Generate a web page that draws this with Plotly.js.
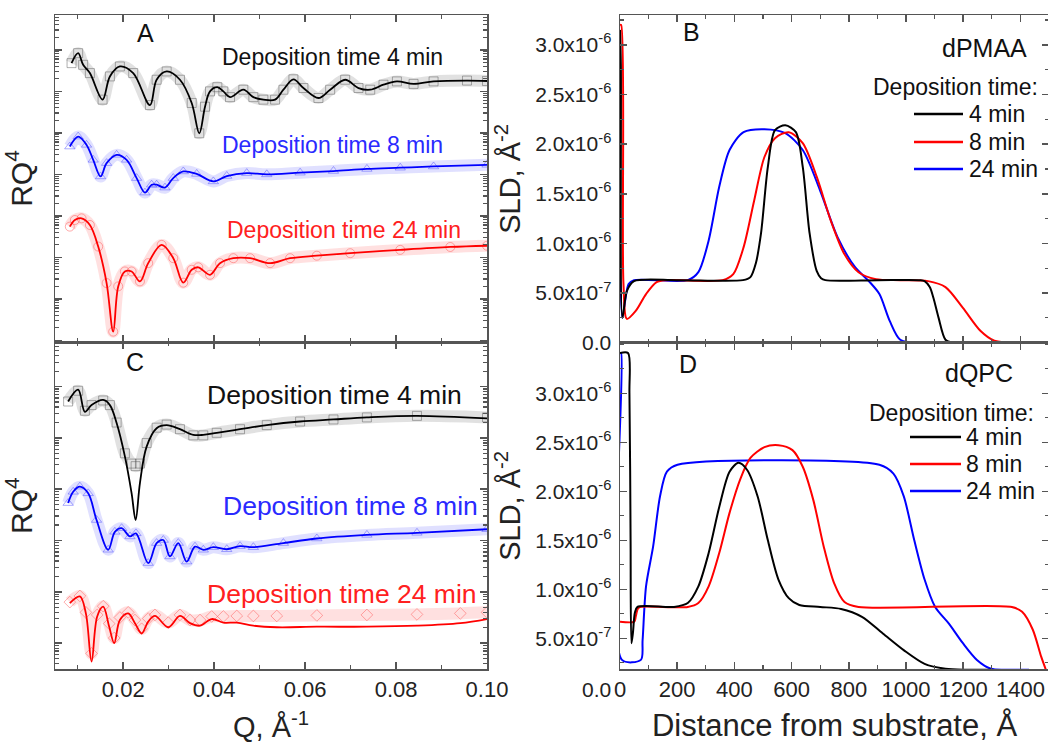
<!DOCTYPE html>
<html><head><meta charset="utf-8">
<script src="https://cdn.plot.ly/plotly-3.0.1.min.js"></script>
<style>html,body{margin:0;padding:0;overflow:hidden;background:#fff}#chart{width:1050px;height:743px}</style>
</head><body><div id="chart"></div>
<script>
// ---------- Panel A (dPMAA reflectivity), log10(RQ^4), offset curves ----------
const qA4  = [0.00864,0.01009,0.01119,0.01267,0.01546,0.01707,0.01927,0.0222,0.02588,0.02735,0.02956,0.03248,0.03506,0.03673,0.03799,0.03909,0.0407,0.04202,0.04349,0.04642,0.04862,0.05082,0.0534,0.05523,0.05743,0.05963,0.06293,0.06551,0.06881,0.07174,0.07432,0.07724,0.08019,0.08385,0.08825,0.0956,0.1];
const rA4  = [-0.32,-0.08,-0.36,-0.56,-1.20,-0.64,-0.40,-0.56,-1.33,-0.72,-0.52,-0.72,-1.28,-2.01,-1.37,-1.00,-0.90,-1.00,-1.14,-0.96,-1.14,-1.20,-1.20,-0.96,-0.71,-0.92,-1.16,-0.96,-0.72,-0.92,-0.96,-0.84,-0.76,-0.82,-0.76,-0.74,-0.75];
const qA8  = [0.00826,0.01009,0.01194,0.0134,0.01502,0.01635,0.01855,0.02075,0.02295,0.02478,0.02625,0.02735,0.02918,0.03101,0.03321,0.03616,0.03982,0.04277,0.04717,0.05157,0.0589,0.06624,0.07359,0.08092,0.08825,0.1];
const rA8  = [-2.33,-2.09,-2.29,-2.65,-3.05,-2.73,-2.53,-2.65,-3.09,-3.44,-3.25,-3.25,-3.32,-3.09,-2.93,-2.99,-3.17,-3.04,-2.97,-3.00,-2.96,-2.92,-2.87,-2.84,-2.81,-2.77];
const qA24 = [0.00826,0.00937,0.01084,0.01267,0.0145,0.01635,0.0178,0.0189,0.02037,0.02185,0.02368,0.0255,0.02845,0.03101,0.03321,0.03506,0.03651,0.03909,0.04129,0.04422,0.0479,0.0523,0.0567,0.06258,0.06992,0.08092,0.09193,0.1];
const rA24 = [-4.26,-4.10,-4.06,-4.22,-4.74,-5.62,-6.79,-5.70,-5.34,-5.34,-5.58,-5.14,-4.70,-5.02,-5.61,-5.30,-5.24,-5.42,-5.14,-5.02,-5.02,-5.14,-5.02,-4.96,-4.90,-4.82,-4.75,-4.72];

// ---------- Panel C (dQPC reflectivity) ----------
const qC4  = [0.00789,0.01009,0.01157,0.01304,0.0156,0.01707,0.01855,0.02037,0.02185,0.02273,0.02368,0.02515,0.02735,0.02956,0.03248,0.03541,0.03761,0.04056,0.04569,0.05157,0.0589,0.06624,0.07359,0.0846,0.1];
const rC4fit  = [-0.29,-0.06,-0.49,-0.36,-0.26,-0.36,-0.71,-1.36,-2.08,-2.60,-1.88,-1.17,-0.81,-0.75,-0.83,-0.94,-0.94,-0.90,-0.83,-0.75,-0.68,-0.64,-0.60,-0.57,-0.62];
const rC4meas = [-0.29,-0.08,-0.47,-0.36,-0.27,-0.36,-0.70,-1.30,-1.50,-1.55,-1.50,-1.10,-0.80,-0.74,-0.83,-0.95,-0.95,-0.90,-0.83,-0.75,-0.68,-0.64,-0.60,-0.57,-0.60];
const qC8  = [0.00789,0.009,0.01047,0.0123,0.01414,0.0167,0.01817,0.01965,0.02148,0.0228,0.0255,0.02735,0.02881,0.03028,0.03211,0.03396,0.03579,0.03761,0.03982,0.04277,0.04569,0.04862,0.05523,0.06258,0.07359,0.0846,0.1];
const rC8  = [-2.27,-2.05,-1.95,-2.08,-2.60,-3.18,-2.83,-2.76,-2.92,-2.86,-3.44,-3.05,-2.99,-3.31,-3.05,-3.41,-3.12,-3.18,-3.13,-3.17,-3.11,-3.13,-3.05,-2.96,-2.89,-2.85,-2.78];
const qC24 = [0.00826,0.01047,0.01179,0.01304,0.01428,0.0156,0.01692,0.01802,0.01927,0.0211,0.02258,0.02405,0.0255,0.02698,0.02991,0.03248,0.03469,0.03689,0.03946,0.04202,0.04497,0.04862,0.05377,0.06258,0.07359,0.0846,0.09413,0.1];
const rC24fit  = [-4.22,-4.09,-4.42,-5.36,-4.48,-4.29,-4.68,-5.00,-4.55,-4.42,-4.61,-4.81,-4.58,-4.47,-4.69,-4.47,-4.61,-4.66,-4.53,-4.60,-4.60,-4.66,-4.69,-4.68,-4.68,-4.66,-4.61,-4.53];
const rC24meas = [-4.20,-4.08,-4.40,-5.20,-4.45,-4.28,-4.62,-4.90,-4.50,-4.40,-4.55,-4.72,-4.52,-4.45,-4.60,-4.45,-4.55,-4.55,-4.48,-4.48,-4.47,-4.47,-4.47,-4.46,-4.45,-4.44,-4.42,-4.40];

// ---------- Panel B (dPMAA SLD profiles) ----------
const zB4   = [0,3,8.5,24,49,200,430,456,475,493,517,542,578,615,639,663,688,703,718,900,1050,1065,1083,1096,1114,1138,1163];
const sldB4 = [3.15e-6,2.8e-6,0.25e-6,0.52e-6,0.62e-6,0.63e-6,0.63e-6,0.66e-6,0.80e-6,1.10e-6,1.77e-6,2.14e-6,2.19e-6,2.12e-6,1.77e-6,1.10e-6,0.72e-6,0.65e-6,0.63e-6,0.63e-6,0.63e-6,0.62e-6,0.56e-6,0.45e-6,0.25e-6,0.03e-6,0];
const zB8   = [0,4,12,24,55,91,128,164,359,396,432,469,505,542,590,639,688,737,785,834,895,980,1077,1138,1199,1260,1309,1394];
const sldB8 = [3.2e-6,3.2e-6,0.6e-6,0.24e-6,0.32e-6,0.49e-6,0.61e-6,0.63e-6,0.63e-6,0.69e-6,0.96e-6,1.43e-6,1.87e-6,2.06e-6,2.12e-6,2.01e-6,1.67e-6,1.23e-6,0.89e-6,0.71e-6,0.64e-6,0.63e-6,0.62e-6,0.56e-6,0.35e-6,0.12e-6,0.02e-6,0];
const zB24   = [0,8,30,49,237,274,310,347,383,432,505,578,639,700,761,822,870,907,943,980,1053];
const sldB24 = [2.3e-6,0.25e-6,0.59e-6,0.63e-6,0.63e-6,0.71e-6,1.03e-6,1.57e-6,1.94e-6,2.12e-6,2.15e-6,2.11e-6,1.94e-6,1.53e-6,1.06e-6,0.76e-6,0.62e-6,0.49e-6,0.22e-6,0.03e-6,0];

// ---------- Panel D (dQPC SLD profiles) ----------
const zD4   = [0,28,33,37,40,45,52,61,189,237,274,310,347,383,414,444,481,517,554,590,627,700,773,846,919,992,1065,1138,1211,1300];
const sldD4 = [3.41e-6,3.41e-6,3.0e-6,1.5e-6,0.45e-6,0.55e-6,0.76e-6,0.82e-6,0.82e-6,0.86e-6,1.03e-6,1.37e-6,1.84e-6,2.20e-6,2.29e-6,2.22e-6,1.95e-6,1.50e-6,1.10e-6,0.91e-6,0.84e-6,0.82e-6,0.80e-6,0.72e-6,0.55e-6,0.38e-6,0.24e-6,0.19e-6,0.18e-6,0.18e-6];
const zD8   = [0,50,55,62,70,237,274,310,347,383,420,456,505,554,603,639,676,712,749,785,834,1370,1406,1443,1473,1489];
const sldD8 = [0.67e-6,0.67e-6,0.72e-6,0.80e-6,0.82e-6,0.82e-6,0.86e-6,1.03e-6,1.37e-6,1.78e-6,2.12e-6,2.34e-6,2.45e-6,2.47e-6,2.42e-6,2.25e-6,1.91e-6,1.44e-6,1.06e-6,0.87e-6,0.82e-6,0.82e-6,0.77e-6,0.59e-6,0.31e-6,0.18e-6];
const zD24   = [0,4,7,73,79,91,116,140,164,201,907,956,992,1029,1065,1102,1150,1199,1248,1297,1345,1430];
const sldD24 = [3.41e-6,3.41e-6,0.28e-6,0.28e-6,0.48e-6,1.03e-6,1.44e-6,1.95e-6,2.20e-6,2.27e-6,2.27e-6,2.18e-6,1.95e-6,1.50e-6,1.10e-6,0.82e-6,0.65e-6,0.45e-6,0.28e-6,0.19e-6,0.18e-6,0.18e-6];

// ---------- labels ----------
const seriesLabelsLeft = ['Deposition time 4 min','Deposition time 8 min','Deposition time 24 min'];
const legendLabels = ['4 min','8 min','24 min'];
const sldTickVals = [0,5e-7,1e-6,1.5e-6,2e-6,2.5e-6,3e-6];
const sldTickText = ['0.0','5.0x10<sup>-7</sup>','1.0x10<sup>-6</sup>','1.5x10<sup>-6</sup>','2.0x10<sup>-6</sup>','2.5x10<sup>-6</sup>','3.0x10<sup>-6</sup>'];

// ---------- helpers ----------
const W = 1050, H = 743;
const PX = x => x / W, PY = y => 1 - y / H;
const pow10 = a => a.map(v => Math.pow(10, v));
const FONT = 'Liberation Sans, Arial, sans-serif';
const BLACK = '#000000', RED = '#ff0000', BLUE = '#0000ff';

function meas(x, ylog, xa, ya, sym, rgb) {
  return {x: x, y: pow10(ylog), xaxis: xa, yaxis: ya, mode: 'lines+markers', showlegend: false, hoverinfo: 'skip',
    line: {color: 'rgba(' + rgb + ',0.17)', width: 12, shape: 'spline', smoothing: 1},
    marker: {symbol: sym, size: 9, color: 'rgba(' + rgb + ',0.45)', line: {width: 1}}};
}
function fit(x, ylog, xa, ya, col) {
  return {x: x, y: pow10(ylog), xaxis: xa, yaxis: ya, mode: 'lines', showlegend: false,
    line: {color: col, width: 1.8, shape: 'spline', smoothing: 1}};
}
function sld(x, y, xa, ya, col, name) {
  return {x: x, y: y, xaxis: xa, yaxis: ya, mode: 'lines', name: name, showlegend: false,
    line: {color: col, width: 2, shape: 'spline', smoothing: 0.8}};
}

const traces = [
  meas(qA4, rA4, 'x', 'y', 'square-open', '80,80,80'), fit(qA4, rA4, 'x', 'y', BLACK),
  meas(qA8, rA8, 'x', 'y', 'triangle-up-open', '70,70,255'), fit(qA8, rA8, 'x', 'y', BLUE),
  meas(qA24, rA24, 'x', 'y', 'circle-open', '255,70,70'), fit(qA24, rA24, 'x', 'y', RED),
  meas(qC4, rC4meas, 'x2', 'y2', 'square-open', '80,80,80'), fit(qC4, rC4fit, 'x2', 'y2', BLACK),
  meas(qC8, rC8, 'x2', 'y2', 'triangle-up-open', '70,70,255'), fit(qC8, rC8, 'x2', 'y2', BLUE),
  meas(qC24, rC24meas, 'x2', 'y2', 'diamond-open', '255,70,70'), fit(qC24, rC24fit, 'x2', 'y2', RED),
  sld(zB24, sldB24, 'x3', 'y3', BLUE, legendLabels[2]),
  sld(zB8, sldB8, 'x3', 'y3', RED, legendLabels[1]),
  sld(zB4, sldB4, 'x3', 'y3', BLACK, legendLabels[0]),
  sld(zD24, sldD24, 'x4', 'y4', BLUE, legendLabels[2]),
  sld(zD8, sldD8, 'x4', 'y4', RED, legendLabels[1]),
  sld(zD4, sldD4, 'x4', 'y4', BLACK, legendLabels[0])
];

const AX = {showline: true, linecolor: '#555', linewidth: 1.5, mirror: 'ticks', ticks: 'inside', ticklen: 7,
  tickcolor: '#555', tickwidth: 1.5, showgrid: false, zeroline: false, automargin: false,
  tickfont: {family: FONT, size: 22, color: '#222'}};
const minorLin = d => ({dtick: d, ticks: 'inside', ticklen: 4, tickcolor: '#555', tickwidth: 1.2, showgrid: false});
const titleFont = s => ({family: FONT, size: s, color: '#222'});

const xLeft = [PX(55), PX(487)], xRight = [PX(620), PX(1049)];
const layout = {
  width: W, height: H, margin: {l: 0, r: 0, t: 0, b: 0}, paper_bgcolor: '#fff', plot_bgcolor: '#fff',
  font: {family: FONT, color: '#222'}, showlegend: false,
  xaxis: Object.assign({}, AX, {domain: xLeft, anchor: 'y', range: [0.005, 0.1], tick0: 0, dtick: 0.02, showticklabels: false, minor: minorLin(0.01)}),
  yaxis: Object.assign({}, AX, {domain: [PY(342), PY(15)], anchor: 'x', type: 'log', range: [-7.04, 0.84], dtick: 1, showticklabels: false,
    minor: {ticks: 'inside', ticklen: 4, tickcolor: '#555', tickwidth: 1.2, showgrid: false},
    title: {text: 'RQ<sup>4</sup>', font: titleFont(30), standoff: 12}}),
  xaxis2: Object.assign({}, AX, {domain: xLeft, anchor: 'y2', range: [0.005, 0.1], tick0: 0, dtick: 0.02, tickformat: '.2f', minor: minorLin(0.01),
    title: {text: 'Q, Å<sup>-1</sup>', font: titleFont(29), standoff: 20}}),
  yaxis2: Object.assign({}, AX, {domain: [PY(669.3), PY(342)], anchor: 'x2', type: 'log', range: [-5.51, 0.87], dtick: 1, showticklabels: false,
    minor: {ticks: 'inside', ticklen: 4, tickcolor: '#555', tickwidth: 1.2, showgrid: false},
    title: {text: 'RQ<sup>4</sup>', font: titleFont(30), standoff: 12}}),
  xaxis3: Object.assign({}, AX, {domain: xRight, anchor: 'y3', range: [0, 1500], tick0: 0, dtick: 200, showticklabels: false, minor: minorLin(100)}),
  yaxis3: Object.assign({}, AX, {domain: [PY(342.7), PY(15)], anchor: 'x3', range: [0, 3.3e-6], tickmode: 'array', tickvals: sldTickVals, ticktext: sldTickText,
    ticklabelstandoff: 3, tickfont: {family: FONT, size: 21, color: '#222'}, minor: minorLin(2.5e-7),
    title: {text: 'SLD, Å<sup>-2</sup>', font: titleFont(29), standoff: 6}}),
  xaxis4: Object.assign({}, AX, {domain: xRight, anchor: 'y4', range: [0, 1500], tick0: 0, dtick: 200, minor: minorLin(100),
    title: {text: 'Distance from substrate, Å', font: titleFont(31), standoff: 18}}),
  yaxis4: Object.assign({}, AX, {domain: [PY(669), PY(342.7)], anchor: 'x4', range: [0.187e-6, 3.516e-6], tickmode: 'array', tickvals: sldTickVals, ticktext: sldTickText,
    ticklabelstandoff: 3, tickfont: {family: FONT, size: 21, color: '#222'}, minor: minorLin(2.5e-7),
    title: {text: 'SLD, Å<sup>-2</sup>', font: titleFont(29), standoff: 6}}),
  annotations: [], shapes: []
};

function note(text, x, y, size, color, xanchor) {
  layout.annotations.push({text: text, x: PX(x), y: PY(y), xref: 'paper', yref: 'paper', showarrow: false,
    xanchor: xanchor || 'left', yanchor: 'middle', font: {family: FONT, size: size, color: color || '#222'}});
}
// panel letters
note('A', 145, 33, 25, '#111', 'center');
note('C', 135, 362, 25, '#111', 'center');
note('B', 692, 32, 25, '#111', 'center');
note('D', 688, 364, 25, '#111', 'center');
// left-panel curve labels
note(seriesLabelsLeft[0], 220, 57, 23, '#111');
note(seriesLabelsLeft[1], 220, 145, 23, '#2a2aff');
note(seriesLabelsLeft[2], 225, 230, 23, '#ff2020');
note(seriesLabelsLeft[0], 205, 395, 26.5, '#111');
note(seriesLabelsLeft[1], 221, 506, 26.5, '#2a2aff');
note(seriesLabelsLeft[2], 205, 594, 26.5, '#ff2020');
// right-panel legends
note('dPMAA', 1029, 48, 25, '#111', 'right');
note('Deposition time:', 1040, 87, 23, '#111', 'right');
note('dQPC', 1015, 373, 25, '#111', 'right');
note('Deposition time:', 1036, 413, 23, '#111', 'right');
const legCols = [BLACK, RED, BLUE];
const legB = [114, 142, 169], legD = [437, 464, 491];
for (let i = 0; i < 3; i++) {
  layout.shapes.push({type: 'line', xref: 'paper', yref: 'paper', x0: PX(914), x1: PX(963), y0: PY(legB[i]), y1: PY(legB[i]), line: {color: legCols[i], width: 2.5}});
  note(legendLabels[i], 967, legB[i], 23, '#111');
  layout.shapes.push({type: 'line', xref: 'paper', yref: 'paper', x0: PX(910), x1: PX(961), y0: PY(legD[i]), y1: PY(legD[i]), line: {color: legCols[i], width: 2.5}});
  note(legendLabels[i], 964, legD[i], 23, '#111');
}
// zero label of panel D's y axis (drawn below the frame in the original)
note(sldTickText[0], 613, 689, 21, '#222', 'right');

Plotly.newPlot('chart', traces, layout, {staticPlot: true, displayModeBar: false});
</script>
</body></html>
